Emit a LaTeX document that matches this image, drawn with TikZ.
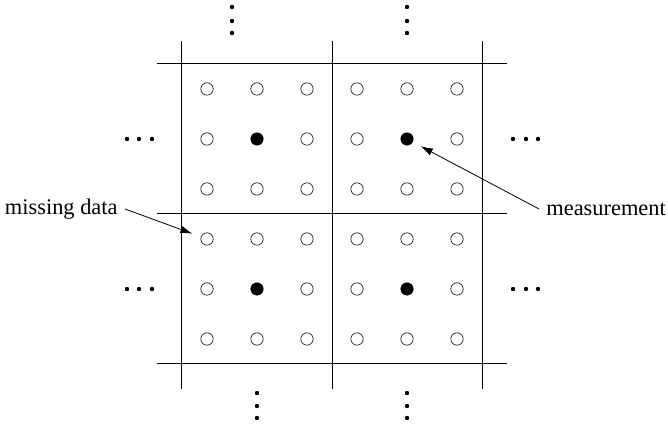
\documentclass[tikz,border=0pt]{standalone}
\usepackage{fontspec}
\setmainfont{Liberation Serif}
\usepackage{tikz}
\usetikzlibrary{arrows.meta}

\tikzset{
  cell/.style={circle, draw, line width=0.3pt, minimum size=6.2pt, inner sep=0pt},
  meas/.style={circle, fill, minimum size=6.2pt, inner sep=0pt},
  dotc/.style={circle, fill, minimum size=2.2pt, inner sep=0pt},
  lbl/.style={font=\fontsize{11.2}{13}\selectfont, inner sep=3.5pt}
}

\begin{document}
\begin{tikzpicture}[>={Latex[length=6pt,width=3.8pt]}, x=25pt, y=25pt]
    \useasboundingbox (-6.64,-4.24) rectangle (6.72,4.28);

    % Gitterlinien
    \foreach \k in {-3,0,3} {
        \draw[line width=0.5pt] (\k,-3.5) -- (\k,3.45);
        \draw[line width=0.5pt] (-3.5,\k) -- (3.5,\k);
    }

    % Gitterpunkte
    \foreach \i in {1,...,6} {
        \foreach \j in {1,...,6} {
            \node[cell] (c-\i-\j) at (\i-3.5,3.5-\j) {};
        }
    }

    % Messwerte
    \foreach \x/\y/\n in {-1.5/1.5/a, 1.5/1.5/b, -1.5/-1.5/c, 1.5/-1.5/d}
        \node[meas] (m-\n) at (\x,\y) {};

    % Punkte am Rand
    \foreach \x in {-2,1.5}
        \foreach \t in {3.62,3.86,4.14}
            \node[dotc] at (\x,\t) {};
    \foreach \x in {-1.5,1.5}
        \foreach \t in {3.58,3.84,4.08}
            \node[dotc] at (\x,-\t) {};
    \foreach \y in {1.5,-1.5} {
        \foreach \t in {3.6,3.86,4.1}
            \node[dotc] at (-\t,\y) {};
        \foreach \t in {3.62,3.88,4.12}
            \node[dotc] at (\t,\y) {};
    }

    % Beschriftungen
    \node[lbl, anchor=west] (measurement) at (4.14,0.1) {measurement};
    \node[lbl, anchor=east] (missing) at (-4.14,0.1) {missing data};

    \draw[->, line width=0.4pt, shorten >=4.5pt] (measurement.west) -- (m-b);
    \draw[->, line width=0.4pt, shorten >=4.5pt] (missing.east) -- (c-1-4);
\end{tikzpicture}
\end{document}
